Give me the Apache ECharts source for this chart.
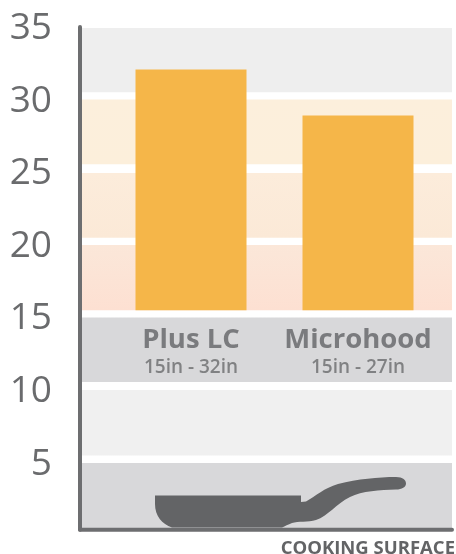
<!DOCTYPE html>
<html><head><meta charset="utf-8">
<style>html,body{margin:0;padding:0;background:#fff}#c{width:456px;height:554px}</style>
<script src="https://cdn.jsdelivr.net/npm/echarts@6/dist/echarts.min.js"></script>
</head><body><div id="c"></div>
<script>
const categories = ['Plus LC', 'Microhood'];
const ranges = ['15in - 32in', '15in - 27in'];
const barTops = [31.83, 28.66];
const barFloor = 15.25;
const bandHighs = [34.68, 29.76, 24.69, 19.74, 14.74, 9.75, 4.72];
const bandLows = [30.25, 25.3, 20.23, 15.25, 10.3, 5.24, 0.15];
const bandTopColors = ['#eeeeee', '#fcefdc', '#fcecdb', '#fbe7d9', '#d8d8da', '#f0f0f0', '#d8d8da'];
const bandBottomColors = ['#eeeeee', '#fcefdb', '#fbe9d7', '#fde0d2', '#d8d8da', '#f0f0f0', '#d8d8da'];
const axisFloor = 0.13;
const axisTop = 34.75;
const panPath = 'M155 495.5 L301 495.5 L301 502 L306 501.5 C316 496 324 488 338 484 C358 479 378 477 396 477 C403 477 406 480 406 483.5 C406 487 402 489.5 396 489.5 C380 490 362 491 350 497 C336 504 328 516 316 520 C308 522.5 298 521 292 523 C288 524.5 285 526 282 527.5 L172 527.5 C162 524 155 516 155 504 Z';

const chart = echarts.init(document.getElementById('c'), null, {renderer: 'canvas'});
const font = '"Open Sans"';
const dark = '#6a6b6d';
const darker = '#636466';
chart.setOption({
  animation: false,
  backgroundColor: '#fff',
  title: {
    text: 'COOKING SURFACE', right: 1, top: 539,
    textStyle: {fontFamily: font, fontWeight: 700, fontSize: 18.5, color: darker}, padding: 0
  },
  grid: [
    {left: 80, width: 372, top: 23.4, height: 508.2},
    {left: 107.5, width: 334, top: 23.4, height: 508.2}
  ],
  xAxis: [
    {gridIndex: 0, type: 'value', min: 0, max: 1, show: false},
    {gridIndex: 1, type: 'category', data: categories, show: false}
  ],
  yAxis: [
    {gridIndex: 0, type: 'value', min: 0, max: 35, interval: 5,
     axisLine: {show: false}, axisTick: {show: false}, splitLine: {show: false},
     axisLabel: {margin: 28, fontFamily: font, fontSize: 37, color: dark, verticalAlign: 'top', lineHeight: 10,
       formatter: v => (v === 0 ? '' : String(v))}},
    {gridIndex: 1, type: 'value', min: 0, max: 35, show: false}
  ],
  series: [
    {
      type: 'custom', xAxisIndex: 0, yAxisIndex: 0, z: 1, silent: true, clip: false,
      data: bandHighs.map((h, i) => [i, h, bandLows[i]]),
      renderItem: (params, api) => {
        const i = api.value(0);
        const a = api.coord([0, api.value(1)]);
        const b = api.coord([1, api.value(2)]);
        return {
          type: 'rect',
          shape: {x: a[0], y: a[1], width: b[0] - a[0], height: b[1] - a[1]},
          style: {fill: new echarts.graphic.LinearGradient(0, 0, 0, 1, [
            {offset: 0, color: bandTopColors[i]},
            {offset: 1, color: bandBottomColors[i]}
          ])}
        };
      }
    },
    {
      type: 'bar', xAxisIndex: 1, yAxisIndex: 1, stack: 'b', z: 2, barWidth: 111, silent: true,
      itemStyle: {color: 'rgba(0,0,0,0)'},
      data: categories.map(() => barFloor)
    },
    {
      type: 'bar', xAxisIndex: 1, yAxisIndex: 1, stack: 'b', z: 2, barWidth: 111, silent: true,
      itemStyle: {color: '#f5b649'},
      data: barTops.map(v => v - barFloor)
    },
    {
      type: 'scatter', xAxisIndex: 1, yAxisIndex: 1, z: 3, symbolSize: 0, silent: true,
      data: categories.map((c, i) => ({value: [c, 12.35], name: c, range: ranges[i]})),
      label: {
        show: true, position: 'inside',
        formatter: p => `{n|${p.name}}\n{r|${p.data.range}}`,
        rich: {
          n: {fontFamily: font, fontWeight: 700, fontSize: 27.5, color: darker, lineHeight: 30, align: 'center'},
          r: {fontFamily: font, fontWeight: 600, fontSize: 19, color: dark, lineHeight: 24, align: 'center'}
        }
      }
    },
    {
      type: 'line', xAxisIndex: 0, yAxisIndex: 0, z: 4, clip: false, symbol: 'none', silent: true,
      lineStyle: {color: '#6d6e70', width: 4, cap: 'round'},
      data: [[0, axisTop], [0, axisFloor]]
    },
    {
      type: 'line', xAxisIndex: 0, yAxisIndex: 0, z: 4, clip: false, symbol: 'none', silent: true,
      lineStyle: {color: '#6d6e70', width: 4, cap: 'round'},
      data: [[0, axisFloor], [1, axisFloor]]
    },
    {
      type: 'custom', xAxisIndex: 0, yAxisIndex: 0, z: 5, silent: true, clip: false,
      data: [[0, 0]],
      renderItem: () => ({
        type: 'path',
        shape: {pathData: panPath, x: 155, y: 477, width: 251, height: 50.5, layout: 'cover'},
        style: {fill: '#636466'}
      })
    }
  ]
});
</script></body></html>
